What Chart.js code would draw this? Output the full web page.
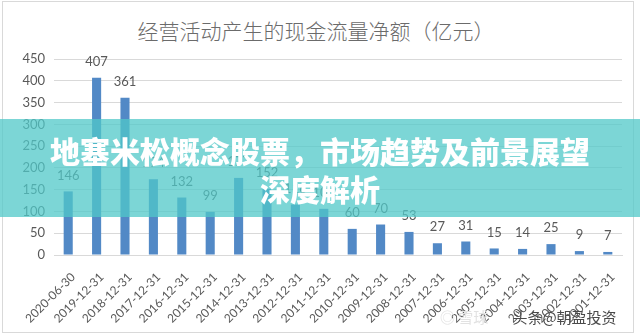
<!DOCTYPE html>
<html>
<head>
<meta charset="utf-8">
<script src="https://cdn.jsdelivr.net/npm/chart.js@4"></script>
<style>
    html, body { margin: 0; padding: 0; background: #fff; }
    #wrap { position: relative; width: 640px; height: 336px; overflow: hidden; }
    #frame { position: absolute; left: 2px; top: 1px; width: 630px; height: 330px; border: 1px solid #d9d9d9; }
    #title {
        position: absolute; left: 0; width: 632px; top: 15px; text-align: center;
        font-family: "Noto Sans CJK SC", sans-serif; font-size: 21px; font-weight: 300; color: #6b6b6b;
    }
    #banner {
        position: absolute; left: 0; top: 119px; width: 640px; height: 98px;
        background: rgba(80, 200, 200, 0.75);
    }
    #banner div {
        position: absolute; left: 0; width: 640px; text-align: center;
        font-family: "Noto Sans CJK SC", sans-serif; font-size: 30px; font-weight: 900; color: #fff;
        line-height: 38px;
    }
    #mark {
        position: absolute; left: 440px; top: 306px; font-family: "Noto Sans CJK SC", sans-serif;
        font-size: 15px; white-space: nowrap;
    }
    #mark .xq { color: #e2e2e2; }
    #mark .tt { color: #4a4a4a; margin-left: 24px; }
    canvas { position: absolute; left: 0; top: 0; }
</style>
</head>
<body>
<div id="wrap">
    <div id="frame"></div>
    <div id="title">经营活动产生的现金流量净额（亿元）</div>
    <canvas id="chart-cashflow" width="640" height="336"></canvas>
    <div id="mark"><span class="xq">◎ 雪球</span><span class="tt">头条@朝盈投资</span></div>
    <div id="banner">
        <div style="top: 12px;">地塞米松概念股票，市场趋势及前景展望</div>
        <div style="top: 50px;">深度解析</div>
    </div>
</div>
<script>
// Net cash flow from operating activities, 100M CNY
const periods = [
    '2020-06-30', '2019-12-31', '2018-12-31', '2017-12-31', '2016-12-31',
    '2015-12-31', '2014-12-31', '2013-12-31', '2012-12-31', '2011-12-31',
    '2010-12-31', '2009-12-31', '2008-12-31', '2007-12-31', '2006-12-31',
    '2005-12-31', '2004-12-31', '2003-12-31', '2002-12-31', '2001-12-31'
];
const cashFlow = [146, 407, 361, 174, 132, 99, 177, 152, 116, 106, 60, 70, 53, 27, 31, 15, 14, 25, 9, 7];
const yTicks = [0, 50, 100, 150, 200, 250, 300, 350, 400, 450];

const gray = '#595959';

// values printed above each bar
const barLabels = {
    id: 'barLabels',
    afterDatasetsDraw(chart) {
        const ctx = chart.ctx;
        const meta = chart.getDatasetMeta(0);
        ctx.save();
        ctx.font = '13px Lato, sans-serif';
        ctx.fillStyle = gray;
        ctx.textAlign = 'center';
        ctx.textBaseline = 'middle';
        meta.data.forEach((bar, i) => {
            ctx.fillText(String(cashFlow[i]), bar.x, bar.y - 16);
        });
        ctx.restore();
    }
};

const ctx = document.getElementById('chart-cashflow').getContext('2d');

new Chart(ctx, {
    type: 'bar',
    data: {
        labels: periods,
        datasets: [{
            data: cashFlow,
            backgroundColor: '#5289c6',
            categoryPercentage: 1,
            barPercentage: 0.32
        }]
    },
    options: {
        responsive: false,
        animation: false,
        layout: { padding: { top: 59, left: 0, right: 18, bottom: 0 } },
        plugins: {
            legend: { display: false },
            tooltip: { enabled: false }
        },
        scales: {
            x: {
                grid: { display: false, drawTicks: false },
                border: { color: '#d9d9d9' },
                ticks: {
                    color: gray,
                    font: { family: 'Lato, sans-serif', size: 12 },
                    minRotation: 45,
                    maxRotation: 45,
                    padding: 15,
                    labelOffset: 5,
                    autoSkip: false
                },
                afterFit(scale) { scale.height = 81; }
            },
            y: {
                min: 0,
                max: 450,
                afterBuildTicks(scale) { scale.ticks = yTicks.map(v => ({ value: v })); },
                grid: { color: '#d9d9d9', drawTicks: false },
                border: { display: false },
                ticks: {
                    color: gray,
                    font: { family: 'Lato, sans-serif', size: 13 },
                    padding: 9
                },
                afterFit(scale) { scale.width = 54; }
            }
        }
    },
    plugins: [barLabels]
});
</script>
</body>
</html>
